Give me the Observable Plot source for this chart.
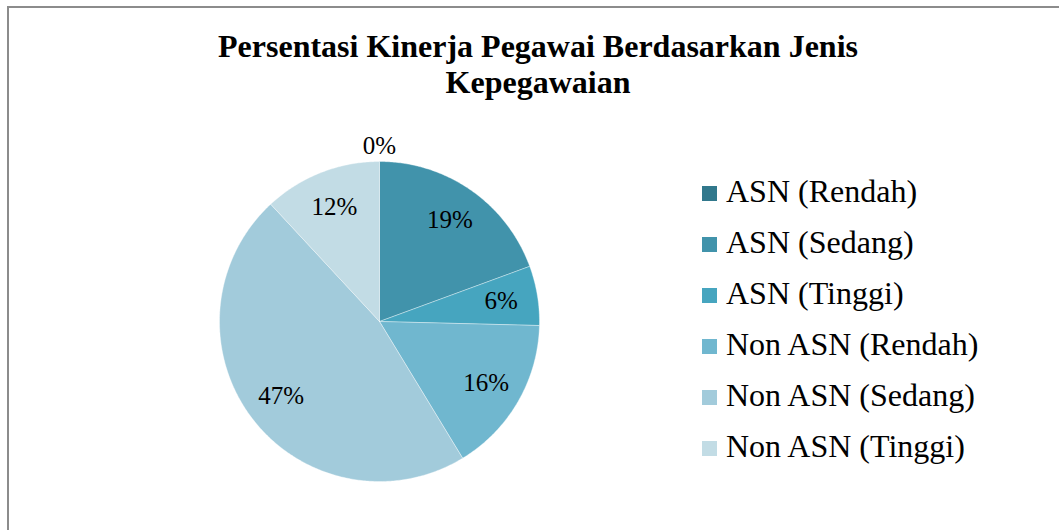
<!DOCTYPE html>
<html>
<head>
<meta charset="utf-8">
<script src="https://cdn.jsdelivr.net/npm/d3@7"></script>
<script src="https://cdn.jsdelivr.net/npm/@observablehq/plot@0.6"></script>
<style>
  html, body { margin: 0; padding: 0; background: #fff; }
  #wrap { position: relative; width: 1059px; height: 530px; overflow: hidden; font-family: "Liberation Serif", "Times New Roman", serif; }
  #frame { position: absolute; left: 7px; top: 6px; width: 1100px; height: 600px; border-left: 2px solid #8c8c8c; border-top: 2px solid #8c8c8c; }
  #title { position: absolute; left: 0; width: 1076px; top: 28px; text-align: center; font-weight: bold; font-size: 32px; line-height: 36px; color: #000; }
  #chart { position: absolute; left: 0; top: 0; }
  #legend { position: absolute; left: 702px; top: 0; }
  .row { position: absolute; left: 0; white-space: nowrap; font-size: 32px; line-height: 32px; color: #000; }
  .sw { display: inline-block; width: 15px; height: 15px; margin-right: 9px; vertical-align: baseline; position: relative; top: -1px; }
</style>
</head>
<body>
<div id="wrap">
  <div id="frame"></div>
  <div id="chart"></div>
  <div id="title">Persentasi Kinerja Pegawai Berdasarkan Jenis<br>Kepegawaian</div>
  <div id="legend"></div>
</div>
<script>
const categories = ["ASN (Rendah)", "ASN (Sedang)", "ASN (Tinggi)", "Non ASN (Rendah)", "Non ASN (Sedang)", "Non ASN (Tinggi)"];
const values = [0, 19.4, 6.0, 15.9, 46.8, 11.9];
const labels = ["0%", "19%", "6%", "16%", "47%", "12%"];
const colors = ["#31788c", "#4193ab", "#46a5bf", "#70b7cf", "#a2cbdb", "#c2dce5"];

const data = categories.map((c, i) => ({category: c, value: values[i], label: labels[i]}));
const arcs = d3.pie().sort(null).value(d => d.value)(data);

// slice outlines in unit-circle coordinates (angles clockwise from 12 o'clock)
const polys = [];
arcs.forEach(a => {
  if (a.endAngle - a.startAngle <= 0) return;
  const c = a.data.category;
  polys.push({category: c, x: 0, y: 0});
  const n = Math.max(2, Math.ceil((a.endAngle - a.startAngle) / 0.01));
  for (let k = 0; k <= n; k++) {
    const t = a.startAngle + (a.endAngle - a.startAngle) * k / n;
    polys.push({category: c, x: Math.sin(t), y: Math.cos(t)});
  }
  polys.push({category: c, x: 0, y: 0});
});

const labelRows = arcs.map(a => {
  const m = (a.startAngle + a.endAngle) / 2;
  const r = a.data.value === 0 ? 1.1 : 0.77;
  return {x: r * Math.sin(m), y: r * Math.cos(m), text: a.data.label};
});

const plot = Plot.plot({
  width: 1059,
  height: 530,
  marginLeft: 219,
  marginRight: 520,
  marginTop: 161,
  marginBottom: 49,
  x: {domain: [-1, 1], axis: null},
  y: {domain: [-1, 1], axis: null},
  color: {domain: categories, range: colors},
  style: {fontFamily: "Liberation Serif, Times New Roman, serif", background: "transparent", overflow: "visible"},
  marks: [
    Plot.line(polys, {x: "x", y: "y", z: "category", fill: "category", stroke: "#ffffff", strokeWidth: 0.6, strokeOpacity: 0.6, curve: "linear-closed"}),
    Plot.text(labelRows, {x: "x", y: "y", text: "text", fontSize: 25, fill: "#000"})
  ]
});
document.getElementById("chart").appendChild(plot);

const legend = document.getElementById("legend");
categories.forEach((c, i) => {
  const row = document.createElement("div");
  row.className = "row";
  row.style.top = (175 + i * 51) + "px";
  const sw = document.createElement("span");
  sw.className = "sw";
  sw.style.background = colors[i];
  row.appendChild(sw);
  row.appendChild(document.createTextNode(c));
  legend.appendChild(row);
});
</script>
</body>
</html>
